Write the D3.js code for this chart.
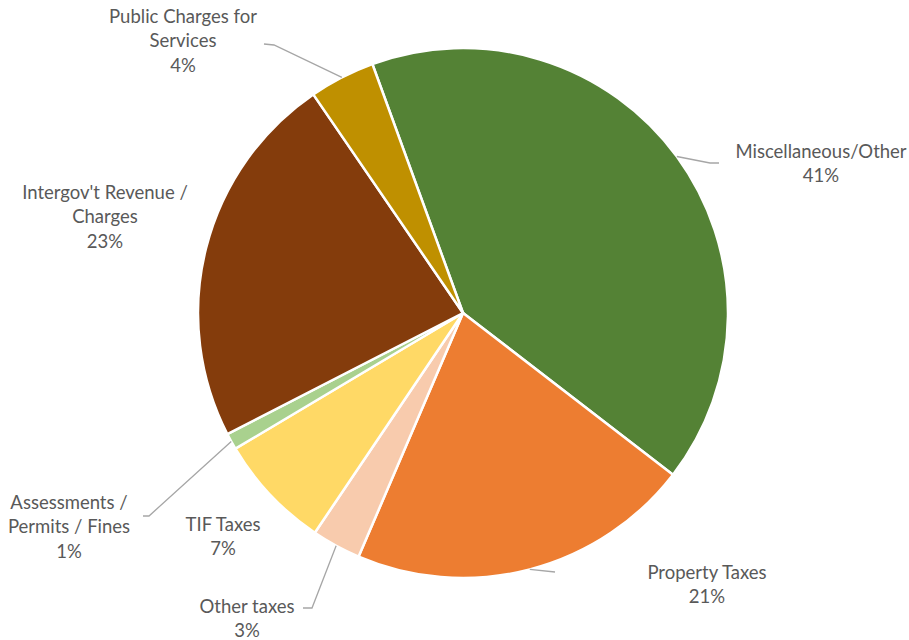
<!DOCTYPE html>
<html>
<head>
<meta charset="utf-8">
<script src="https://cdn.jsdelivr.net/npm/d3@7"></script>
<style>
  html, body { margin: 0; padding: 0; background: #fff; }
  svg text { font-family: Lato, "Liberation Sans", sans-serif; }
</style>
</head>
<body>
<div id="chart"></div>
<script>
// Revenue sources, clockwise from the top-right slice
const categories = [
  "Miscellaneous/Other",
  "Property Taxes",
  "Other taxes",
  "TIF Taxes",
  "Assessments / Permits / Fines",
  "Intergov't Revenue / Charges",
  "Public Charges for Services"
];
const shares = [41, 21, 3, 7, 1, 23, 4];
const labelLines = [
  ["Miscellaneous/Other"],
  ["Property Taxes"],
  ["Other taxes"],
  ["TIF Taxes"],
  ["Assessments /", "Permits / Fines"],
  ["Intergov't Revenue /", "Charges"],
  ["Public Charges for", "Services"]
];
const colors = ["#548235", "#ED7D31", "#F8CBAD", "#FFD966", "#A9D18E", "#843C0C", "#BF9000"];

// Label placement: centre x, first baseline, and optional leader elbow/end
const labelLayout = [
  { x: 821, y: 158, leader: [[710, 163], [719, 163]] },
  { x: 707, y: 579, leader: [[555, 572]] },
  { x: 247, y: 613, leader: [[312, 608], [303, 608]] },
  { x: 223, y: 531, leader: null },
  { x: 69,  y: 509, leader: [[149, 516], [143, 516]] },
  { x: 105, y: 199, leader: null },
  { x: 183, y: 23,  leader: [[274, 45], [264, 44]] }
];

const width = 909, height = 640;
const cx = 463, cy = 313, radius = 265;
const startDeg = -20;

const svg = d3.select("#chart").append("svg")
  .attr("width", width).attr("height", height);

const data = categories.map((c, i) => ({ name: c, value: shares[i], i }));

const pie = d3.pie()
  .value(d => d.value)
  .sort(null)
  .startAngle(startDeg * Math.PI / 180)
  .endAngle((startDeg + 360) * Math.PI / 180);

const arcs = pie(data);
const arc = d3.arc().innerRadius(0).outerRadius(radius);

const g = svg.append("g").attr("transform", `translate(${cx},${cy})`);

g.selectAll("path.slice")
  .data(arcs)
  .join("path")
  .attr("class", "slice")
  .attr("d", arc)
  .attr("fill", d => colors[d.data.i])
  .attr("stroke", "#fff")
  .attr("stroke-width", 2.5)
  .attr("stroke-linejoin", "round");

// Leader lines from the outer edge of each slice at its mid-angle
const line = d3.line();
arcs.forEach(a => {
  const lay = labelLayout[a.data.i];
  if (!lay.leader) return;
  const mid = (a.startAngle + a.endAngle) / 2;
  const p0 = [cx + radius * Math.sin(mid), cy - radius * Math.cos(mid)];
  svg.append("path")
    .attr("d", line([p0, ...lay.leader]))
    .attr("fill", "none")
    .attr("stroke", "#a6a6a6")
    .attr("stroke-width", 1.3);
});

// Category labels with rounded percentages
const fmt = d3.format(".0%");
const total = d3.sum(shares);
arcs.forEach(a => {
  const i = a.data.i;
  const lay = labelLayout[i];
  const lines = [...labelLines[i], fmt(a.data.value / total)];
  const t = svg.append("text")
    .attr("text-anchor", "middle")
    .attr("fill", "#595959")
    .attr("font-size", "18.5px");
  lines.forEach((s, k) => {
    t.append("tspan").attr("x", lay.x).attr("y", lay.y + k * 24.3).text(s);
  });
});
</script>
</body>
</html>
